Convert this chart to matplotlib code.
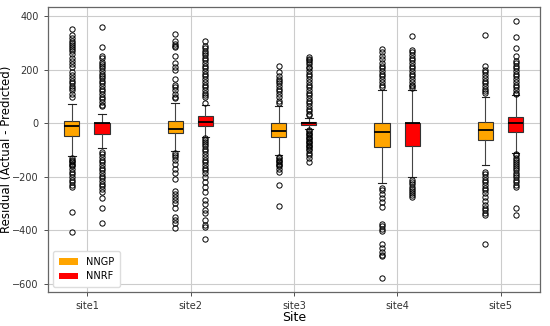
import numpy as np
import matplotlib
matplotlib.use('Agg')
import matplotlib.pyplot as plt
from matplotlib.patches import Patch

sites = ['site1', 'site2', 'site3', 'site4', 'site5']
models = ['NNGP', 'NNRF']
colors = {'NNGP': 'orange', 'NNRF': 'red'}

# box stats: q1, median, q3, lower whisker, upper whisker
nngp_q1 = [-47, -37, -50, -90, -64]
nngp_med = [-11, -21, -27, -33, -24]
nngp_q3 = [7, 10, 0, 0, 5]
nngp_lo = [-123, -103, -120, -223, -156]
nngp_hi = [74, 75, 63, 125, 99]

nnrf_q1 = [-40, -9, -5, -83, -31]
nnrf_med = [0, 4, 0, 0, 1]
nnrf_q3 = [1, 26, 5, 1, 24]
nnrf_lo = [-91, -52, -22, -202, -110]
nnrf_hi = [36, 68, 21, 125, 107]

nngp_fliers = [
    [353, 329, 317, 309, 300, 293, 284, 277, 269, 259, 244, 232, 222, 210, 191, 180, 170, 160, 150, 140, 133, 123, 110, 98,
     -128, -135, -140, -145, -150, -155, -160, -170, -180, -190, -200, -210, -220, -230, -237, -331, -404],
    [334, 306, 296, 289, 284, 253, 227, 210, 201, 165, 143, 135, 123, 110, 100, 94,
     -110, -119, -125, -138, -150, -169, -187, -206, -252, -262, -274, -286, -299, -317, -348, -361, -373, -389],
    [213, 190, 175, 165, 160, 150, 140, 130, 120, 110, 100, 85, 75,
     -125, -130, -135, -140, -145, -150, -155, -160, -170, -180, -229, -310],
    [278, 265, 252, 240, 225, 215, 205, 195, 185, 175, 165, 155, 145, 135,
     -240, -250, -265, -280, -295, -311, -376, -385, -395, -402, -450, -465, -480, -490, -497, -579],
    [331, 213, 200, 190, 180, 170, 160, 150, 140, 130, 120, 115,
     -183, -190, -200, -210, -220, -230, -240, -250, -260, -275, -290, -305, -315, -325, -335, -342, -451],
]
nnrf_fliers = [
    [361, 286, 253, 245, 230, 222, 215, 205, 195, 185, 178, 170, 160, 150, 140, 130, 120, 110, 100, 90, 80, 70, 63,
     -107, -115, -125, -135, -145, -155, -165, -175, -185, -195, -205, -215, -225, -235, -245, -255, -280, -315, -371],
    [309, 290, 280, 270, 262, 255, 245, 235, 225, 215, 205, 195, 185, 175, 165, 155, 145, 135, 125, 115, 105, 98, 77,
     -55, -62, -70, -78, -86, -95, -105, -115, -125, -135, -145, -155, -165, -175, -185, -200, -218, -237, -255,
     -286, -301, -324, -336, -361, -379, -386, -432],
    [249, 242, 235, 228, 220, 212, 205, 195, 185, 175, 165, 155, 145, 135, 125, 115, 105, 95, 85, 75, 65, 55, 45, 35, 30,
     -25, -30, -35, -40, -45, -50, -55, -60, -65, -70, -75, -80, -85, -90, -95, -100, -110, -120, -130, -146],
    [326, 274, 265, 255, 245, 235, 225, 215, 205, 195, 185, 175, 165, 155, 145, 138, 133,
     -212, -220, -228, -236, -244, -252, -260, -268, -276],
    [384, 324, 280, 250, 234, 225, 215, 205, 195, 185, 175, 165, 155, 145, 135, 125, 115, 110,
     -113, -120, -128, -136, -144, -152, -160, -168, -176, -184, -192, -200, -210, -220, -230, -239, -315, -342],
]


def make_stats(q1, med, q3, lo, hi, fl):
    out = []
    for i in range(len(q1)):
        out.append(dict(q1=q1[i], med=med[i], q3=q3[i], whislo=lo[i], whishi=hi[i],
                        fliers=np.array(fl[i], dtype=float)))
    return out


stats = {'NNGP': make_stats(nngp_q1, nngp_med, nngp_q3, nngp_lo, nngp_hi, nngp_fliers),
         'NNRF': make_stats(nnrf_q1, nnrf_med, nnrf_q3, nnrf_lo, nnrf_hi, nnrf_fliers)}

fig = plt.figure(figsize=(5.5, 3.26), dpi=100)
ax = fig.add_axes([0.087, 0.104, 0.895, 0.875])

base = np.arange(1, len(sites) + 1)
offs = {'NNGP': -0.148, 'NNRF': 0.143}
for m in models:
    ax.bxp(stats[m], positions=base + offs[m], widths=0.148, patch_artist=True,
           boxprops=dict(facecolor=colors[m], edgecolor='#333333', linewidth=0.8),
           medianprops=dict(color='black', linewidth=1.3),
           whiskerprops=dict(color='#444444', linewidth=0.8),
           capprops=dict(color='#222222', linewidth=0.8),
           flierprops=dict(marker='o', markerfacecolor='none', markeredgecolor='black',
                           markersize=3.8, markeredgewidth=0.7),
           manage_ticks=False)

ax.set_xlim(0.62, 5.38)
ax.set_ylim(-630, 435)
ax.set_xticks(base)
ax.set_xticklabels(sites)
ax.set_yticks([400, 200, 0, -200, -400, -600])
ax.tick_params(labelsize=7, colors='#333333', length=3, width=0.6)
ax.grid(True, color='#cccccc', linewidth=0.8)
ax.set_axisbelow(True)
for s in ax.spines.values():
    s.set_color('#666666')
    s.set_linewidth(0.9)

ax.set_xlabel('Site', fontsize=9, labelpad=0)
ax.set_ylabel('Residual (Actual - Predicted)', fontsize=8.5)
ax.yaxis.set_label_coords(-0.07, 0.5)

handles = [Patch(facecolor=colors[m], label=m) for m in models]
ax.legend(handles=handles, loc='lower left', fontsize=7, handlelength=2.0,
          borderpad=0.6, labelspacing=0.5, framealpha=1, edgecolor='#dddddd')

fig.savefig('out.png', dpi=100)
